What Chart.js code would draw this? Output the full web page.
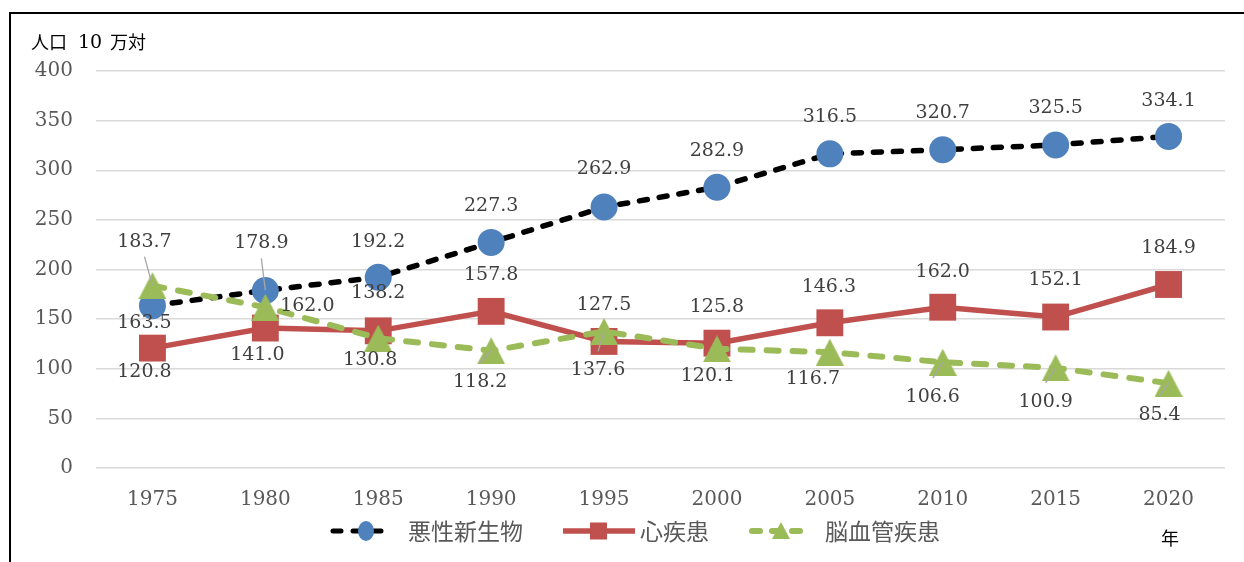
<!DOCTYPE html>
<html>
<head>
<meta charset="utf-8">
<script src="https://cdn.jsdelivr.net/npm/chart.js@4.4.0/dist/chart.umd.min.js"></script>
<style>
html, body { margin: 0; padding: 0; background: #fff; }
</style>
</head>
<body>
<canvas id="mycanvas" width="1244" height="562"></canvas>
<script>
// data
var years = ['1975', '1980', '1985', '1990', '1995', '2000', '2005', '2010', '2015', '2020'];
var cancer = [163.5, 178.9, 192.2, 227.3, 262.9, 282.9, 316.5, 320.7, 325.5, 334.1];
var heart = [120.8, 141.0, 138.2, 157.8, 127.5, 125.8, 146.3, 162.0, 152.1, 184.9];
var stroke = [183.7, 162.0, 130.8, 118.2, 137.6, 120.1, 116.7, 106.6, 100.9, 85.4];
var yTicks = [0, 50, 100, 150, 200, 250, 300, 350, 400];
var seriesNames = ['悪性新生物', '心疾患', '脳血管疾患'];
var yTitle = ['人口', '10', '万対'];
var xUnit = '年';

// label placement (dx, dy from the point), kept apart from the values
var cancerLabelPos = [[-8,17],[-4,-47],[0,-35],[0,-36],[0,-38],[0,-36],[0,-37],[0,-37],[0,-37],[0,-35]];
var heartLabelPos = [[-8,24],[-8,27],[0,-38],[0,-36],[0,-36],[0,-36],[-1,-36],[0,-35],[0,-37],[0,-36]];
var strokeLabelPos = [[-8,-44],[42,-1],[-8,22],[-11,31],[-6,39],[-9,27],[-17,27],[-10,35],[-10,34],[-9,32]];
var labelPos = [cancerLabelPos, heartLabelPos, strokeLabelPos];
var leaders = [[1], [], [0, 3, 4, 7, 8, 9]];

var BLUE = '#4f81bd', RED = '#c0504d', GREEN = '#9bbb59';
var SERIF = '"DejaVu Serif", serif';
var JP = '"Noto Sans CJK JP", sans-serif';

function triImg(color, w, h) {
	var c = document.createElement('canvas');
	c.width = w; c.height = h;
	var g = c.getContext('2d');
	g.fillStyle = color;
	g.beginPath();
	g.moveTo(w / 2, 0);
	g.lineTo(w, h);
	g.lineTo(0, h);
	g.closePath();
	g.fill();
	return c;
}

var extras = {
	id: 'extras',
	afterDatasetsDraw: function(chart) {
		var c = chart.ctx;
		c.save();
		c.font = '19px ' + SERIF;
		c.textAlign = 'center';
		c.textBaseline = 'middle';
		chart.data.datasets.forEach(function(ds, di) {
			var meta = chart.getDatasetMeta(di);
			meta.data.forEach(function(pt, i) {
				var off = labelPos[di][i];
				var lx = pt.x + off[0], ly = pt.y + off[1];
				if (leaders[di].indexOf(i) >= 0) {
					c.strokeStyle = '#a6a6a6';
					c.lineWidth = 1.3;
					c.beginPath();
					if (off[1] < 0) c.moveTo(lx, ly + 15); else c.moveTo(lx, ly - 19);
					c.lineTo(pt.x, pt.y);
					c.stroke();
				}
				c.fillStyle = '#404040';
				c.fillText(ds.data[i].toFixed(1), lx, ly);
			});
		});
		c.restore();
	},
	afterDraw: function(chart) {
		var c = chart.ctx;
		c.save();
		// frame
		c.strokeStyle = '#000';
		c.lineWidth = 2;
		c.beginPath();
		c.moveTo(10, 562);
		c.lineTo(10, 13);
		c.lineTo(1244, 13);
		c.stroke();

		// axis title and unit
		c.fillStyle = '#000';
		c.textBaseline = 'middle';
		c.textAlign = 'left';
		c.font = '18px ' + JP;
		c.fillText(yTitle[0], 31, 42);
		c.font = '19px ' + SERIF;
		c.fillText(yTitle[1], 78, 43);
		c.font = '18px ' + JP;
		c.fillText(yTitle[2], 110, 42);
		c.textAlign = 'center';
		c.fillText(xUnit, 1170, 538);

		// legend
		var ly = 531;
		c.lineCap = 'round';
		c.strokeStyle = '#000';
		c.lineWidth = 5;
		c.setLineDash([8, 12]);
		c.beginPath(); c.moveTo(333, ly); c.lineTo(392, ly); c.stroke();
		c.setLineDash([]);
		c.fillStyle = BLUE;
		c.beginPath(); c.ellipse(366, ly, 8, 10, 0, 0, Math.PI * 2); c.fill();

		c.lineCap = 'butt';
		c.strokeStyle = RED;
		c.lineWidth = 5.5;
		c.beginPath(); c.moveTo(563, ly); c.lineTo(635, ly); c.stroke();
		c.fillStyle = RED;
		c.fillRect(590, ly - 8.5, 17, 17);

		c.lineCap = 'round';
		c.strokeStyle = GREEN;
		c.lineWidth = 6;
		c.setLineDash([8, 12]);
		c.beginPath(); c.moveTo(752, ly); c.lineTo(811, ly); c.stroke();
		c.setLineDash([]);
		c.fillStyle = GREEN;
		c.beginPath(); c.moveTo(781, ly - 9); c.lineTo(790, ly + 8); c.lineTo(772, ly + 8); c.closePath(); c.fill();

		c.fillStyle = '#595959';
		c.font = '23px ' + JP;
		c.textAlign = 'left';
		c.fillText(seriesNames[0], 408, ly);
		c.fillText(seriesNames[1], 640, ly);
		c.fillText(seriesNames[2], 825, ly);
		c.restore();
	}
};

var chart = new Chart(document.getElementById('mycanvas'), {
	type: 'line',
	data: {
		labels: years,
		datasets: [
			{
				label: seriesNames[0],
				data: cancer,
				borderColor: '#000',
				borderWidth: 5.5,
				borderDash: [8, 12],
				borderCapStyle: 'round',
				pointStyle: 'circle',
				pointRadius: 13.5,
				pointBackgroundColor: BLUE,
				pointBorderWidth: 0,
				order: 3
			},
			{
				label: seriesNames[1],
				data: heart,
				borderColor: RED,
				borderWidth: 5.5,
				pointStyle: 'rect',
				pointRadius: 19,
				pointBackgroundColor: RED,
				pointBorderWidth: 0,
				order: 2
			},
			{
				label: seriesNames[2],
				data: stroke,
				borderColor: GREEN,
				borderWidth: 6,
				borderDash: [12, 14],
				borderCapStyle: 'round',
				pointStyle: triImg(GREEN, 28, 27),
				pointRadius: 14,
				pointBorderWidth: 0,
				order: 1
			}
		]
	},
	options: {
		responsive: false,
		animation: false,
		layout: { padding: { left: 0, top: 71, right: 19, bottom: 0 } },
		plugins: {
			legend: { display: false },
			tooltip: { enabled: false }
		},
		scales: {
			x: {
				offset: true,
				grid: { display: false, drawTicks: false },
				border: { display: false },
				ticks: { color: '#595959', font: { family: SERIF, size: 20 }, padding: 20, maxRotation: 0 },
				afterFit: function(s) { s.height = 94; }
			},
			y: {
				min: 0,
				max: 400,
				afterBuildTicks: function(s) { s.ticks = yTicks.map(function(v) { return { value: v }; }); },
				grid: { color: '#d9d9d9', lineWidth: 1.5, drawTicks: false },
				border: { display: false },
				ticks: { color: '#595959', font: { family: SERIF, size: 20 }, padding: 23 },
				afterFit: function(s) { s.width = 96; }
			}
		}
	},
	plugins: [extras]
});
</script>
</body>
</html>
